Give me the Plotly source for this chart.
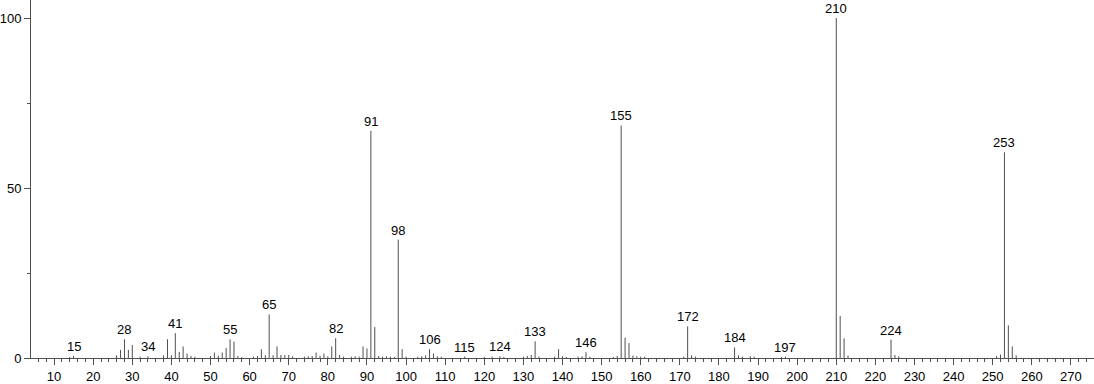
import plotly.graph_objects as go

mz = [14, 15, 26, 27, 28, 29, 30, 32, 34, 38, 39, 40, 41, 42, 43, 44, 45, 46,
      50, 51, 52, 53, 54, 55, 56, 57, 58, 61, 62, 63, 64, 65, 66, 67, 68, 69, 70, 71,
      74, 75, 76, 77, 78, 79, 80, 81, 82, 83, 84, 86, 87, 88, 89, 90, 91, 92, 93, 94,
      95, 96, 97, 98, 99, 100, 103, 104, 105, 106, 107, 108, 109, 115, 120, 122, 124,
      125, 130, 131, 132, 133, 134, 138, 139, 140, 141, 144, 145, 146, 147, 153, 154,
      155, 156, 157, 158, 159, 160, 161, 171, 172, 173, 174, 184, 185, 186, 188, 189,
      196, 197, 210, 211, 212, 213, 224, 225, 226, 251, 252, 253, 254, 255, 256]
intensity = [0.3, 0.6, 0.8, 2.4, 5.5, 2.4, 3.8, 0.4, 0.5, 0.8, 5.5, 0.8, 7.3, 1.8, 3.4, 1.3, 0.6, 0.4,
             0.6, 1.6, 0.7, 1.6, 2.9, 5.5, 4.8, 0.6, 0.3, 0.4, 0.6, 2.6, 0.8, 12.8, 0.8, 3.4, 0.9, 0.9, 0.9, 0.5,
             0.4, 0.5, 0.6, 1.6, 0.7, 1.3, 0.5, 3.4, 5.8, 0.9, 0.4, 0.4, 0.5, 0.4, 3.4, 2.8, 66.8, 9.1, 0.6, 0.4,
             0.5, 0.4, 0.3, 34.8, 2.6, 0.4, 0.4, 0.5, 0.8, 2.6, 1.3, 0.5, 0.4, 0.4, 0.3, 0.4, 0.5,
             0.3, 0.4, 0.6, 0.9, 4.9, 0.4, 0.4, 2.6, 0.5, 0.3, 0.4, 0.5, 1.7, 0.4, 0.3, 0.6,
             68.4, 6.0, 4.4, 0.7, 0.5, 0.4, 0.4, 0.4, 9.3, 0.8, 0.4, 3.1, 0.8, 0.4, 0.5, 0.4,
             0.3, 0.4, 100.0, 12.4, 5.8, 0.7, 5.4, 0.9, 0.5, 0.6, 1.0, 60.5, 9.6, 3.4, 0.8]
labeled_peaks = [15, 28, 34, 41, 55, 65, 82, 91, 98, 106, 115, 124, 133, 146, 155,
                 172, 184, 197, 210, 224, 253]
x_ticks = list(range(10, 271, 10))
y_ticks = [0, 50, 100]

LINE = "#505050"
FONT = "Liberation Sans, Arial, sans-serif"

xs, ys = [], []
for m, h in zip(mz, intensity):
    xs += [m, m, None]
    ys += [0, h, None]

fig = go.Figure()
fig.add_trace(go.Scatter(x=xs, y=ys, mode="lines",
                         line=dict(color=LINE, width=1), hoverinfo="skip",
                         showlegend=False))

lookup = dict(zip(mz, intensity))
for m in labeled_peaks:
    fig.add_annotation(x=m, y=lookup[m], text=str(m), showarrow=False,
                       xanchor="center", yanchor="bottom", yshift=0,
                       font=dict(family=FONT, size=13, color="#000000"))

fig.update_layout(
    width=1094, height=384,
    margin=dict(l=30, r=0, t=0, b=24),
    paper_bgcolor="white", plot_bgcolor="white",
    font=dict(family=FONT, size=13, color="#000000"),
    xaxis=dict(range=[4.1, 275.9], tickvals=x_ticks, ticks="outside", ticklen=6,
               tickcolor=LINE, showline=True, linecolor=LINE, linewidth=1,
               showgrid=False, zeroline=False,
               minor=dict(dtick=2, tick0=0, ticks="outside", ticklen=3, tickcolor=LINE),
               tickfont=dict(family=FONT, size=13)),
    yaxis=dict(range=[0, 105.3], tickvals=y_ticks, ticks="outside", ticklen=6,
               tickcolor=LINE, showline=True, linecolor=LINE, linewidth=1,
               showgrid=False, zeroline=False,
               minor=dict(tickvals=[25, 75], ticks="outside", ticklen=3, tickcolor=LINE),
               tickfont=dict(family=FONT, size=13)),
)

fig.write_html("out.html")
